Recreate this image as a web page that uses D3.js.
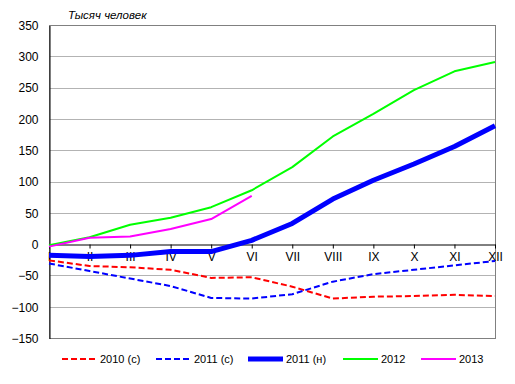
<!DOCTYPE html>
<html><head><meta charset="utf-8">
<script src="https://cdn.jsdelivr.net/npm/d3@7"></script>
<style>body{margin:0;background:#fff;}svg{display:block;font-family:Arial,"Liberation Sans",sans-serif;}</style>
</head><body><svg id="c" width="515" height="384"></svg>
<script>
const months = ["I","II","III","IV","V","VI","VII","VIII","IX","X","XI","XII"];
const yTicks = [-150,-100,-50,0,50,100,150,200,250,300,350];
const s2010c = [-26,-35,-37,-41,-54,-53,-68,-87,-84,-83,-81,-83];
const s2011c = [-31,-43,-55,-67,-86,-87,-80,-60,-48,-41,-34,-27];
const s2011n = [-18,-20,-18,-12,-12,6,33,72,102,128,156,189];
const s2012  = [-2,11,31,42,59,86,123,172,208,246,276,291];
const s2013  = [-4,10,12,24,40,77];
const seriesNames = ["2010 (с)","2011 (с)","2011 (н)","2012","2013"];

const series = [
  {name:seriesNames[0], data:s2010c, color:"#ff0000", w:2, dash:"6,3"},
  {name:seriesNames[1], data:s2011c, color:"#0000ff", w:2, dash:"6,3"},
  {name:seriesNames[2], data:s2011n, color:"#0000ff", w:5, dash:null},
  {name:seriesNames[3], data:s2012,  color:"#00ff00", w:2, dash:null},
  {name:seriesNames[4], data:s2013,  color:"#ff00ff", w:2, dash:null}
];

const svg = d3.select("#c");
const L=49, R=495, T=25, B=338;
const x = d3.scalePoint().domain(months).range([L,R]);
const y = d3.scaleLinear().domain([-150,350]).range([B,T]);

// grid
svg.append("g").selectAll("line").data(yTicks.filter(v=>v!==0 && v!==-150 && v!==350)).join("line")
  .attr("x1",L).attr("x2",R).attr("y1",d=>Math.round(y(d))+0.5).attr("y2",d=>Math.round(y(d))+0.5)
  .attr("stroke","#b3b3b3").attr("stroke-width",1);
// frame
svg.append("rect").attr("x",L+0.5).attr("y",T+0.5).attr("width",R-L).attr("height",B-T)
  .attr("fill","none").attr("stroke","#808080").attr("stroke-width",1);

// y axis
const yAxis = svg.append("g").attr("transform",`translate(${L+0.5},0.5)`)
  .call(d3.axisLeft(y).tickValues(yTicks).tickSize(0).tickPadding(11));
yAxis.select(".domain").attr("stroke","#000");
yAxis.selectAll("text").attr("font-size",12).attr("fill","#000").attr("font-family","Arial,'Liberation Sans',sans-serif");

// x axis on zero
const y0 = Math.round(y(0))+0.5;
const xAxis = svg.append("g").attr("transform",`translate(0,${y0})`)
  .call(d3.axisBottom(x).tickSize(4).tickPadding(4).tickSizeOuter(0));
xAxis.select(".domain").attr("stroke","#000");
xAxis.selectAll("line").attr("stroke","#000");
xAxis.selectAll("text").attr("font-size",12).attr("fill","#000").attr("font-family","Arial,'Liberation Sans',sans-serif");

// lines
const line = d3.line().x((d,i)=>x(months[i])).y(d=>y(d));
series.forEach(s=>{
  const p = svg.append("path").attr("d",line(s.data)).attr("fill","none")
    .attr("stroke",s.color).attr("stroke-width",s.w).attr("stroke-linejoin","round");
  if(s.dash) p.attr("stroke-dasharray",s.dash);
});

// title
svg.append("text").attr("x",68).attr("y",19).attr("font-size",11.5).attr("font-style","italic")
  .attr("fill","#000").text("Тысяч человек");

// legend
const legX = [62,156,248,343,421];
const lg = svg.append("g");
series.forEach((s,i)=>{
  const g = lg.append("g").attr("transform",`translate(${legX[i]},359)`);
  const l = g.append("line").attr("x1",0).attr("x2",35).attr("y1",0).attr("y2",0)
    .attr("stroke",s.color).attr("stroke-width",s.w);
  if(s.dash) l.attr("stroke-dasharray",s.dash);
  g.append("text").attr("x",38).attr("y",4).attr("font-size",11).attr("fill","#000").text(s.name);
});
</script></body></html>
